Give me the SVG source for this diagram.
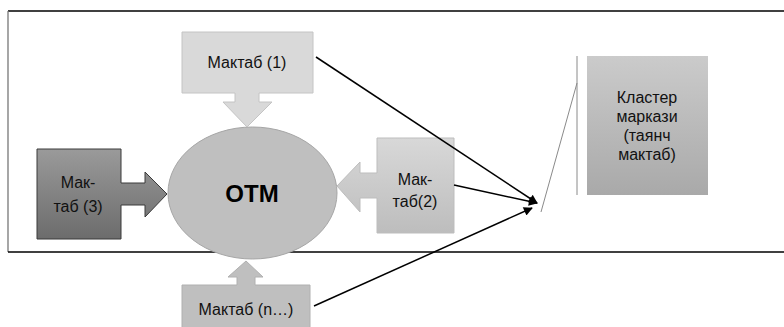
<svg xmlns="http://www.w3.org/2000/svg" width="784" height="327" viewBox="0 0 784 327">
<defs>
<style>
text{font-family:"Liberation Sans",Arial,sans-serif;font-size:16px;fill:#111;text-anchor:middle}
.conn{stroke:#000;stroke-width:1.5;fill:none}
</style>
<linearGradient id="g3" x1="0" y1="0" x2="0" y2="1"><stop offset="0" stop-color="#9a9a9a"/><stop offset="1" stop-color="#6c6c6c"/></linearGradient>
<linearGradient id="g2" x1="0" y1="0" x2="0" y2="1"><stop offset="0" stop-color="#d8d8d8"/><stop offset="1" stop-color="#bdbdbd"/></linearGradient>
<linearGradient id="gk" x1="0" y1="0" x2="0" y2="1"><stop offset="0" stop-color="#cbcbcb"/><stop offset="1" stop-color="#a9a9a9"/></linearGradient>
<marker id="ah" viewBox="0 0 10 10" refX="9" refY="5" markerWidth="11" markerHeight="9" markerUnits="userSpaceOnUse" orient="auto"><path d="M0,0 L10,5 L0,10 z" fill="#000"/></marker>
</defs>
<rect width="784" height="327" fill="#fff"/>
<g id="frame">
<line x1="8" y1="11" x2="784" y2="11" stroke="#000" stroke-width="1.3"/>
<line x1="8" y1="11" x2="8" y2="252" stroke="#777" stroke-width="1.3"/>
<line x1="8" y1="252" x2="784" y2="252" stroke="#000" stroke-width="1.3"/>
</g>
<g id="otm">
<ellipse cx="252.5" cy="193" rx="84.5" ry="66" fill="#bfbfbf" stroke="#a6a6a6" stroke-width="1"/>
<text x="252" y="202" style="font-size:24px;font-weight:bold;fill:#000">ОТМ</text>
</g>
<g id="maktab1">
<path d="M182,32 H313 V93 H259 V102 H272 L247,127 L223,102 H235 V93 H182 Z" fill="#d9d9d9" stroke="#c4c4c4" stroke-width="1"/>
<text x="247" y="68">Мактаб (1)</text>
</g>
<g id="maktab3">
<path d="M37,149 H121 V183 H145 V172 L167,194 L145,217 V205 H121 V239 H37 Z" fill="url(#g3)" stroke="#3a3a3a" stroke-width="1"/>
<text x="78" y="188">Мак-</text>
<text x="78" y="212">таб (3)</text>
</g>
<g id="maktab2">
<path d="M454,138 H377 V173 H360 V162 L337,186 L360,212 V198 H377 V233 H454 Z" fill="url(#g2)" stroke="#bdbdbd" stroke-width="1"/>
<text x="415" y="185">Мак-</text>
<text x="415" y="207">таб(2)</text>
</g>
<g id="maktabn">
<path d="M182,285 H237 V277 H228 L246,261 L263,277 H255 V285 H310 V330 H182 Z" fill="#bfbfbf" stroke="#b0b0b0" stroke-width="1"/>
<text x="246" y="315">Мактаб (n…)</text>
</g>
<g id="klaster">
<rect x="587" y="56" width="121" height="139" fill="url(#gk)"/>
<text x="647" y="103">Кластер</text>
<text x="647" y="122">маркази</text>
<text x="647" y="141">(таянч</text>
<text x="647" y="160">мактаб)</text>
</g>
<g id="bracket" stroke="#8a8a8a" stroke-width="1" fill="none">
<line x1="577" y1="56" x2="577" y2="195"/>
<line x1="577" y1="83" x2="541" y2="212"/>
</g>
<g id="connectors">
<line class="conn" x1="316" y1="57" x2="537" y2="203" marker-end="url(#ah)"/>
<line class="conn" x1="454" y1="185" x2="537" y2="203" marker-end="url(#ah)"/>
<line class="conn" x1="314" y1="306" x2="532" y2="208" marker-end="url(#ah)"/>
</g>
</svg>
